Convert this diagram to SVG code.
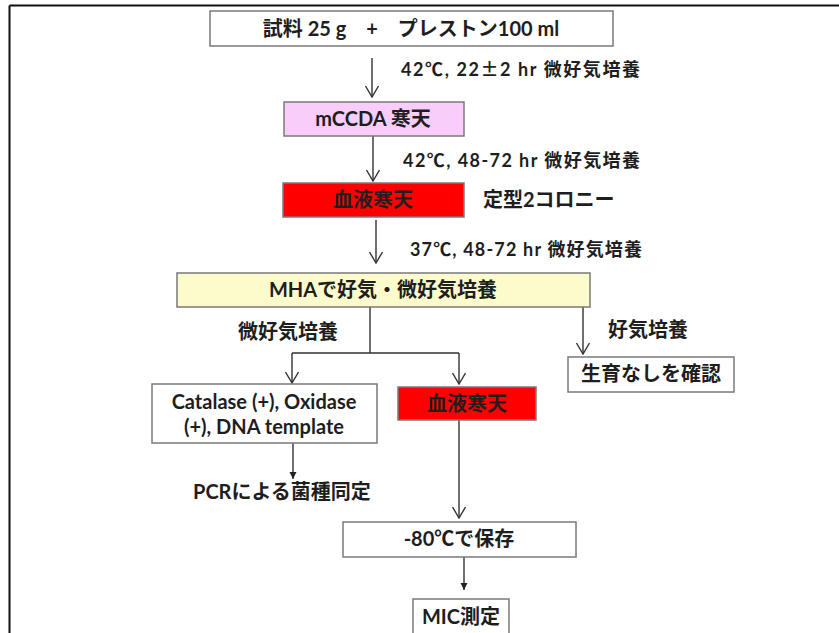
<svg xmlns="http://www.w3.org/2000/svg" width="839" height="633" viewBox="0 0 839 633">
<defs>
<style>
.box{stroke:#7a7a7a;stroke-width:1.5}
.t{font-family:Lato,"Noto Sans CJK JP",sans-serif;font-weight:bold;fill:#1e1e1e}
.b{font-size:20px;text-anchor:middle}
.l{font-size:18px}
.l2{font-size:20px}
.j{font-family:"Noto Sans CJK JP",sans-serif}
.c{fill:none;stroke:#333;stroke-width:1.4}
</style>
<marker id="v" viewBox="-12 -7 13 14" refX="0" refY="0" markerWidth="13" markerHeight="14" markerUnits="userSpaceOnUse" orient="auto">
<path d="M-11,-6.5 L0,0 L-11,6.5" fill="none" stroke="#333" stroke-width="1.4"/>
</marker>
<marker id="f" viewBox="-7 -4 8 8" refX="0" refY="0" markerWidth="8" markerHeight="8" markerUnits="userSpaceOnUse" orient="auto">
<path d="M-7,-3.5 L0,0 L-7,3.5 Z" fill="#222"/>
</marker>
</defs>
<rect width="839" height="633" fill="#fff"/>
<g id="frame" stroke="#111" stroke-width="2" fill="none">
<line x1="9.5" y1="5.5" x2="839" y2="5.5"/>
<line x1="9.5" y1="5.5" x2="9.5" y2="633"/>
</g>
<g id="connectors">
<line class="c" x1="372" y1="58" x2="372" y2="97" marker-end="url(#v)"/>
<line class="c" x1="373" y1="136" x2="373" y2="181" marker-end="url(#v)"/>
<line class="c" x1="376" y1="220" x2="376" y2="263" marker-end="url(#v)"/>
<path class="c" d="M370,307 V353 M292,353 H459" stroke="#666"/>
<line class="c" x1="292" y1="353" x2="292" y2="383" marker-end="url(#v)"/>
<line class="c" x1="459" y1="353" x2="459" y2="384" marker-end="url(#v)"/>
<line class="c" x1="583" y1="307" x2="583" y2="354" marker-end="url(#v)"/>
<line class="c" x1="293" y1="443" x2="293" y2="479" marker-end="url(#f)"/>
<line class="c" x1="459" y1="420" x2="459" y2="518" marker-end="url(#v)"/>
<line class="c" x1="464" y1="557" x2="464" y2="590" marker-end="url(#f)"/>
<text class="t l" x="401" y="76" textLength="239">42℃, 22<tspan class="j">±</tspan>2 hr 微好気培養</text>
<text class="t l" x="403" y="167" textLength="237">42℃, 48-72 hr 微好気培養</text>
<text class="t l" x="410" y="256" textLength="232">37℃, 48-72 hr 微好気培養</text>
<text class="t l2" x="238" y="339">微好気培養</text>
<text class="t l2" x="608" y="337">好気培養</text>
</g>
<g id="sample">
<rect class="box" x="210" y="11" width="403" height="35" fill="#fff"/>
<text class="t b" x="411" y="36">試料 25 g　+　プレストン100 ml</text>
</g>
<g id="mccda">
<rect class="box" x="284" y="102" width="180" height="34" fill="#f9cdf9"/>
<text class="t b" x="373" y="126">mCCDA 寒天</text>
</g>
<g id="blood1">
<rect class="box" x="283" y="183" width="181" height="34" fill="#ff0000"/>
<text class="t b" x="373" y="207">血液寒天</text>
</g>
<g id="colony">
<text class="t l2" x="483" y="207">定型2コロニー</text>
</g>
<g id="mha">
<rect class="box" x="177" y="273" width="413" height="34" fill="#fbfbcb"/>
<text class="t b" x="383" y="297">MHAで好気・微好気培養</text>
</g>
<g id="nogrowth">
<rect class="box" x="568" y="357" width="166" height="35" fill="#fff"/>
<text class="t b" x="651" y="381">生育なしを確認</text>
</g>
<g id="catalase">
<rect class="box" x="152" y="384" width="225" height="59" fill="#fff"/>
<text class="t b" x="264" y="409">Catalase (+), Oxidase</text>
<text class="t b" x="264" y="434">(+), DNA template</text>
</g>
<g id="blood2">
<rect class="box" x="398" y="387" width="138" height="33" fill="#ff0000"/>
<text class="t b" x="467" y="411">血液寒天</text>
</g>
<g id="pcr">
<text class="t l2" x="193" y="499">PCRによる菌種同定</text>
</g>
<g id="store">
<rect class="box" x="343" y="522" width="233" height="35" fill="#fff"/>
<text class="t b" x="459" y="546">-80℃で保存</text>
</g>
<g id="mic">
<rect class="box" x="413" y="599" width="96" height="40" fill="#fff"/>
<text class="t b" x="461" y="624">MIC測定</text>
</g>
</svg>
